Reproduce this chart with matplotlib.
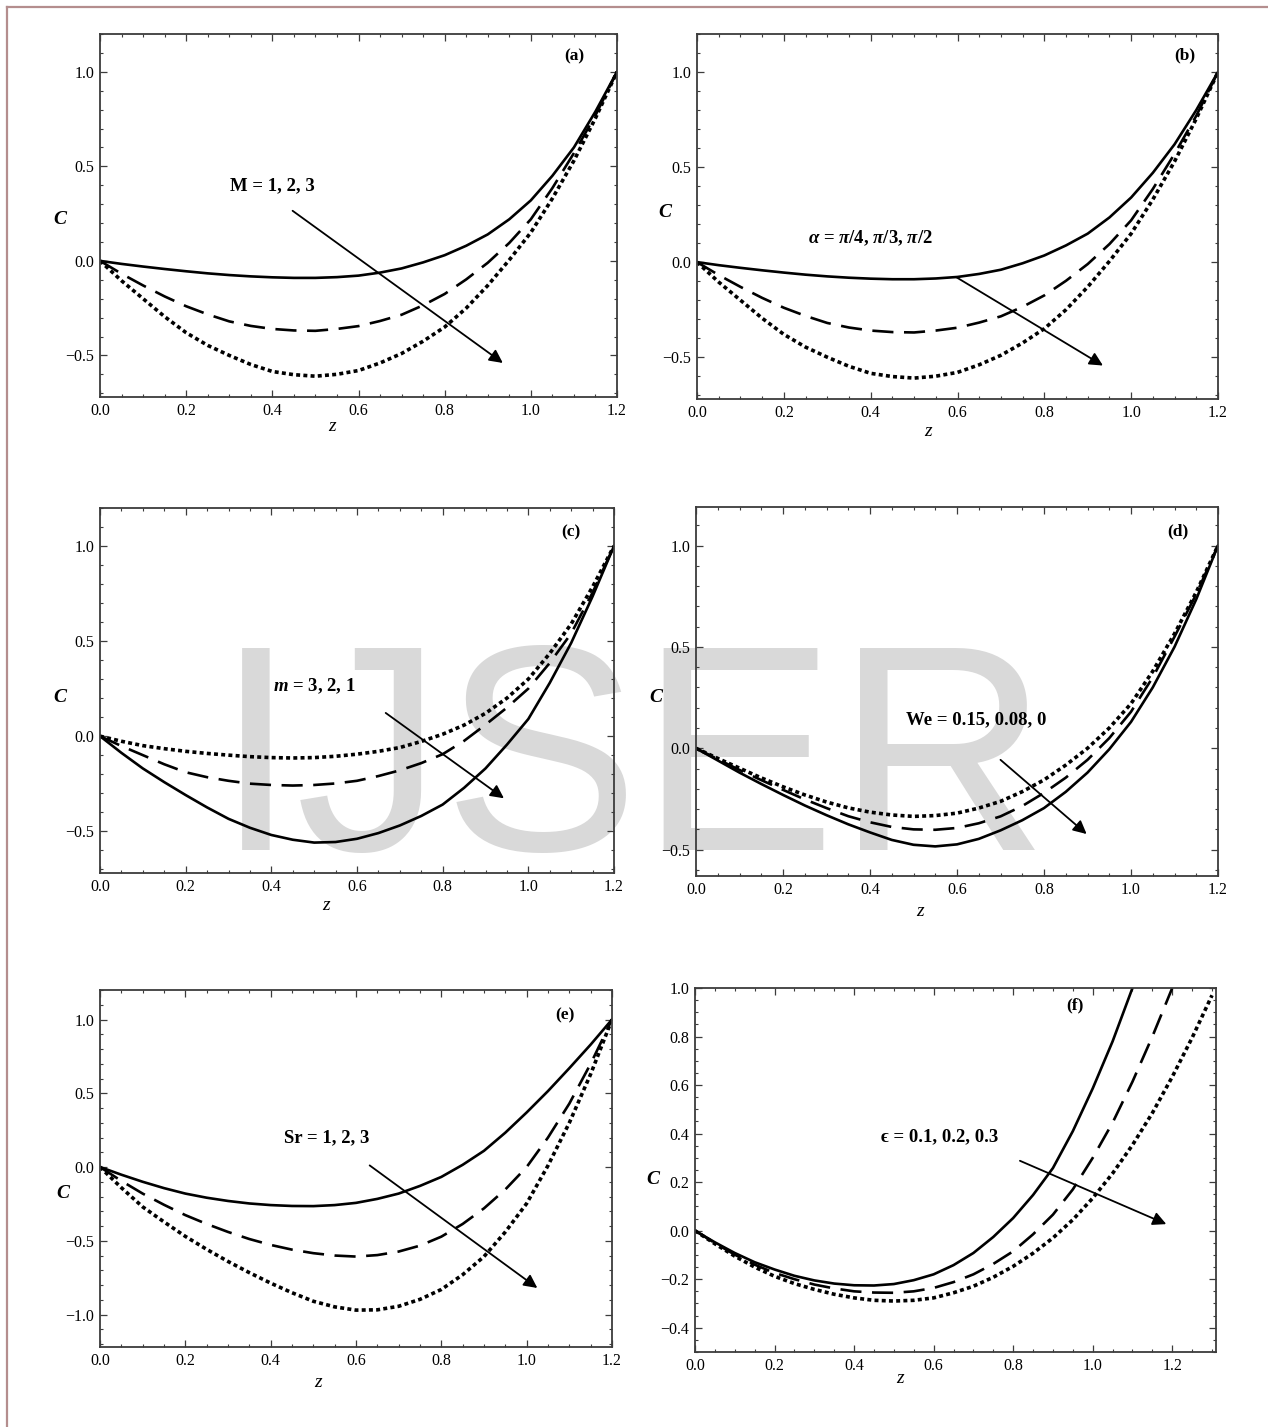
import numpy as np
import matplotlib.pyplot as plt
from matplotlib.lines import Line2D
from matplotlib.ticker import MultipleLocator, FuncFormatter

plt.rcParams['font.family'] = ['Liberation Serif', 'DejaVu Serif']
plt.rcParams['mathtext.fontset'] = 'custom'
plt.rcParams['mathtext.it'] = 'Liberation Serif:italic:bold'
plt.rcParams['mathtext.rm'] = 'Liberation Serif:bold'

# axial positions read along the z axis
z = [0.0, 0.05, 0.1, 0.15, 0.2, 0.25, 0.3, 0.35, 0.4, 0.45, 0.5, 0.55, 0.6,
     0.65, 0.7, 0.75, 0.8, 0.85, 0.9, 0.95, 1.0, 1.05, 1.1, 1.15, 1.2]
z_f = z + [1.25, 1.3]

# (a) M = 1, 2, 3
solid_a = [0, -0.016, -0.03, -0.043, -0.055, -0.066, -0.075, -0.082, -0.087, -0.09, -0.09, -0.086, -0.078,
           -0.062, -0.04, -0.008, 0.03, 0.08, 0.14, 0.22, 0.32, 0.45, 0.6, 0.79, 1.0]
dashed_a = [0, -0.068, -0.13, -0.188, -0.24, -0.283, -0.32, -0.344, -0.36, -0.368, -0.37, -0.36, -0.345,
            -0.318, -0.285, -0.235, -0.175, -0.098, -0.01, 0.095, 0.22, 0.385, 0.57, 0.77, 1.0]
dotted_a = [0, -0.105, -0.2, -0.295, -0.38, -0.447, -0.5, -0.548, -0.585, -0.602, -0.61, -0.6, -0.58,
            -0.54, -0.49, -0.425, -0.35, -0.25, -0.13, 0.005, 0.15, 0.33, 0.53, 0.755, 1.0]

# (b) alpha = pi/4, pi/3, pi/2
solid_b = [0, -0.016, -0.03, -0.043, -0.055, -0.066, -0.075, -0.082, -0.087, -0.09, -0.09, -0.086, -0.078,
           -0.062, -0.04, -0.006, 0.035, 0.088, 0.15, 0.235, 0.34, 0.47, 0.62, 0.8, 1.0]
dashed_b = [0, -0.068, -0.13, -0.188, -0.24, -0.283, -0.32, -0.344, -0.36, -0.368, -0.37, -0.36, -0.345,
            -0.318, -0.285, -0.235, -0.175, -0.098, -0.01, 0.095, 0.22, 0.385, 0.57, 0.77, 1.0]
dotted_b = [0, -0.105, -0.2, -0.295, -0.38, -0.447, -0.5, -0.548, -0.585, -0.602, -0.61, -0.6, -0.58,
            -0.54, -0.49, -0.425, -0.35, -0.25, -0.13, 0.005, 0.15, 0.33, 0.53, 0.755, 1.0]

# (c) m = 3, 2, 1
dotted_c = [0, -0.027, -0.05, -0.066, -0.08, -0.091, -0.10, -0.108, -0.113, -0.115, -0.113, -0.106, -0.095,
            -0.08, -0.06, -0.028, 0.01, 0.058, 0.12, 0.2, 0.30, 0.435, 0.59, 0.785, 1.0]
dashed_c = [0, -0.052, -0.10, -0.148, -0.19, -0.216, -0.235, -0.25, -0.257, -0.26, -0.257, -0.249, -0.235,
            -0.21, -0.18, -0.142, -0.095, -0.025, 0.06, 0.15, 0.25, 0.385, 0.54, 0.755, 1.0]
solid_c = [0, -0.088, -0.17, -0.242, -0.31, -0.375, -0.435, -0.482, -0.52, -0.545, -0.56, -0.557, -0.54,
           -0.51, -0.47, -0.42, -0.36, -0.272, -0.17, -0.045, 0.09, 0.28, 0.49, 0.735, 1.0]

# (d) We = 0.15, 0.08, 0
dotted_d = [0, -0.05, -0.098, -0.146, -0.19, -0.23, -0.265, -0.294, -0.315, -0.329, -0.336, -0.332, -0.32,
            -0.295, -0.262, -0.214, -0.156, -0.083, 0.0, 0.1, 0.22, 0.38, 0.565, 0.77, 1.0]
dashed_d = [0, -0.054, -0.107, -0.157, -0.205, -0.252, -0.295, -0.335, -0.365, -0.388, -0.40, -0.402, -0.393,
            -0.37, -0.336, -0.285, -0.22, -0.145, -0.057, 0.05, 0.18, 0.35, 0.55, 0.76, 1.0]
solid_d = [0, -0.06, -0.12, -0.176, -0.23, -0.282, -0.33, -0.375, -0.415, -0.452, -0.476, -0.484, -0.474,
           -0.447, -0.405, -0.355, -0.295, -0.215, -0.12, -0.005, 0.13, 0.3, 0.5, 0.735, 1.0]

# (e) Sr = 1, 2, 3
solid_e = [0, -0.052, -0.10, -0.143, -0.18, -0.208, -0.23, -0.247, -0.258, -0.264, -0.265, -0.258, -0.243,
           -0.216, -0.18, -0.128, -0.067, 0.015, 0.11, 0.233, 0.37, 0.515, 0.67, 0.83, 1.0]
dashed_e = [0, -0.094, -0.18, -0.256, -0.326, -0.386, -0.44, -0.488, -0.528, -0.56, -0.584, -0.6, -0.607,
            -0.597, -0.573, -0.533, -0.472, -0.386, -0.28, -0.152, 0.0, 0.2, 0.43, 0.7, 1.0]
dotted_e = [0, -0.14, -0.27, -0.372, -0.47, -0.558, -0.64, -0.716, -0.787, -0.852, -0.91, -0.948, -0.97,
            -0.968, -0.944, -0.897, -0.83, -0.73, -0.607, -0.44, -0.247, 0.01, 0.3, 0.63, 1.0]

# (f) epsilon = 0.1, 0.2, 0.3 (curves leave the top of the box)
solid_f = [0, -0.048, -0.092, -0.13, -0.16, -0.186, -0.205, -0.218, -0.225, -0.226, -0.22, -0.204, -0.18,
           -0.142, -0.092, -0.026, 0.052, 0.147, 0.258, 0.41, 0.586, 0.78, 1.0]
dashed_f = [0, -0.051, -0.099, -0.14, -0.174, -0.2, -0.222, -0.238, -0.25, -0.255, -0.256, -0.25, -0.236,
            -0.212, -0.18, -0.137, -0.085, -0.015, 0.066, 0.17, 0.30, 0.445, 0.614, 0.8, 1.0]
dotted_f = [0, -0.054, -0.105, -0.15, -0.188, -0.218, -0.242, -0.262, -0.277, -0.287, -0.29, -0.287, -0.277,
            -0.256, -0.229, -0.192, -0.147, -0.093, -0.03, 0.045, 0.134, 0.236, 0.353, 0.485, 0.634, 0.795, 0.97]

panel_tags = ['(a)', '(b)', '(c)', '(d)', '(e)', '(f)']
panel_notes = ['M = 1, 2, 3', r'$\alpha$ = $\pi$/4, $\pi$/3, $\pi$/2', r'$m$ = 3, 2, 1',
               'We = 0.15, 0.08, 0', 'Sr = 1, 2, 3', '\u03f5 = 0.1, 0.2, 0.3']

W, H = 1268, 1427
fig = plt.figure(figsize=(W / 100, H / 100), dpi=100)

# watermark behind everything
fig.text(632 / W, 1 - 850 / H, 'IJSER', fontsize=212, color='#d9d9d9',
         family='Liberation Sans', ha='center', va='baseline', zorder=-5)

# thin page border (top and left)
bc = '#b48e8e'
fig.add_artist(Line2D([7 / W, 1], [1 - 7 / H, 1 - 7 / H], color=bc, lw=1.6, transform=fig.transFigure))
fig.add_artist(Line2D([7 / W, 7 / W], [0, 1 - 7 / H], color=bc, lw=1.6, transform=fig.transFigure))


def px_rect(l, t, r, b):
    return [l / W, 1 - b / H, (r - l) / W, (b - t) / H]


def tick_fmt(v, _):
    s = f'{v:.1f}'
    if s == '-0.0':
        s = '0.0'
    return s.replace('-', '\u2212')


panels = [
    dict(rect=px_rect(100, 34, 617, 397), xlim=(0, 1.2), ylim=(-0.72, 1.2), ymaj=0.5, ymin=0.1,
         curves=[(z, solid_a, 's'), (z, dashed_a, 'd'), (z, dotted_a, 'o')],
         note=(0.40, 0.395), arrow=((0.447, 0.265), (0.935, -0.54)), tag=(1.10, 1.08),
         cpos=(-0.077, 0.49), zpos=(0.449, -0.08)),
    dict(rect=px_rect(697, 34, 1218, 399), xlim=(0, 1.2), ylim=(-0.72, 1.2), ymaj=0.5, ymin=0.1,
         curves=[(z, solid_b, 's'), (z, dashed_b, 'd'), (z, dotted_b, 'o')],
         note=(0.40, 0.126), arrow=((0.597, -0.079), (0.935, -0.544)), tag=(1.124, 1.09),
         cpos=(-0.061, 0.51), zpos=(0.443, -0.09)),
    dict(rect=px_rect(100, 508, 614, 873), xlim=(0, 1.2), ylim=(-0.72, 1.2), ymaj=0.5, ymin=0.1,
         curves=[(z, dotted_c, 'o'), (z, dashed_c, 'd'), (z, solid_c, 's')],
         note=(0.50, 0.26), arrow=((0.667, 0.122), (0.943, -0.327)), tag=(1.10, 1.07),
         cpos=(-0.078, 0.48), zpos=(0.44, -0.09)),
    dict(rect=px_rect(696, 507, 1218, 876), xlim=(0, 1.2), ylim=(-0.63, 1.19), ymaj=0.5, ymin=0.1,
         curves=[(z, dotted_d, 'o'), (z, dashed_d, 'd'), (z, solid_d, 's')],
         note=(0.643, 0.139), arrow=((0.70, -0.057), (0.898, -0.423)), tag=(1.108, 1.07),
         cpos=(-0.077, 0.485), zpos=(0.429, -0.095)),
    dict(rect=px_rect(100, 990, 612, 1347), xlim=(0, 1.2), ylim=(-1.22, 1.2), ymaj=0.5, ymin=0.1,
         curves=[(z, solid_e, 's'), (z, dashed_e, 'd'), (z, dotted_e, 'o')],
         note=(0.532, 0.197), arrow=((0.632, 0.011), (1.025, -0.82)), tag=(1.09, 1.03),
         cpos=(-0.072, 0.43), zpos=(0.426, -0.10)),
    dict(rect=px_rect(695, 988, 1216, 1352), xlim=(0, 1.31), ylim=(-0.5, 1.0), ymaj=0.2, ymin=0.05,
         curves=[(z_f[:23], solid_f, 's'), (z_f[:25], dashed_f, 'd'), (z_f, dotted_f, 'o')],
         note=(0.616, 0.388), arrow=((0.817, 0.288), (1.185, 0.027)), tag=(0.956, 0.93),
         cpos=(-0.081, 0.473), zpos=(0.393, -0.072)),
]

frame_c = '#3c3c3c'
for p, tag, note in zip(panels, panel_tags, panel_notes):
    ax = fig.add_axes(p['rect'])
    ax.set_facecolor('none')
    for zz, cc, kind in p['curves']:
        if kind == 's':
            ax.plot(zz, cc, color='black', lw=1.9)
        elif kind == 'd':
            ax.plot(zz, cc, color='black', lw=1.9, dashes=(8.0, 4.0))
        else:
            ax.plot(zz, cc, color='black', lw=2.6, dashes=(1.1, 0.9))
    ax.set_xlim(*p['xlim'])
    ax.set_ylim(*p['ylim'])
    ax.xaxis.set_major_locator(MultipleLocator(0.2))
    ax.xaxis.set_minor_locator(MultipleLocator(0.05))
    ax.yaxis.set_major_locator(MultipleLocator(p['ymaj']))
    ax.yaxis.set_minor_locator(MultipleLocator(p['ymin']))
    ax.xaxis.set_major_formatter(FuncFormatter(tick_fmt))
    ax.yaxis.set_major_formatter(FuncFormatter(tick_fmt))
    ax.tick_params(which='both', direction='in', top=True, right=True, color=frame_c,
                   labelsize=11.5, pad=4)
    ax.tick_params(which='major', length=5, width=0.9)
    ax.tick_params(which='minor', length=2.5, width=0.8)
    for sp in ax.spines.values():
        sp.set_color(frame_c)
        sp.set_linewidth(1.3)

    (x0, y0), (x1, y1) = p['arrow']
    ax.annotate('', xy=(x1, y1), xytext=(x0, y0),
                arrowprops=dict(arrowstyle='-|>', color='black', lw=1.3, mutation_scale=20,
                                shrinkA=0, shrinkB=0))
    ax.text(p['note'][0], p['note'][1], note, fontsize=13.5, fontweight='bold',
            ha='center', va='center')
    ax.text(p['tag'][0], p['tag'][1], tag, fontsize=12.5, fontweight='bold',
            ha='center', va='center')
    ax.text(p['cpos'][0], p['cpos'][1], 'C', transform=ax.transAxes, fontsize=14,
            fontweight='bold', fontstyle='italic', ha='center', va='center')
    ax.text(p['zpos'][0], p['zpos'][1], 'z', transform=ax.transAxes, fontsize=14,
            fontstyle='italic', ha='center', va='center')

fig.savefig('out.png', dpi=100)
